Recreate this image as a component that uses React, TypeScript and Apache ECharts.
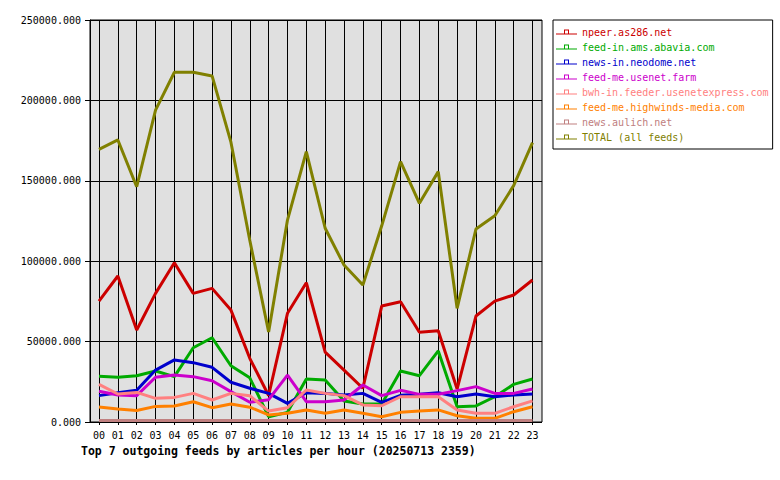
import React, { useEffect, useRef } from 'react';
import * as echarts from 'echarts';

const hours = ['00', '01', '02', '03', '04', '05', '06', '07', '08', '09', '10', '11', '12', '13', '14', '15', '16', '17', '18', '19', '20', '21', '22', '23'];

const npeer = [75200, 90800, 57200, 80000, 99000, 80000, 83100, 69600, 39600, 16500, 67600, 86600, 43500, 32300, 21000, 72100, 74800, 55800, 56800, 20500, 65900, 75200, 79000, 88300];
const feedInAms = [28400, 27800, 28800, 31700, 28200, 46200, 52400, 35000, 27500, 3300, 6000, 26700, 26100, 13000, 11200, 11200, 31700, 28800, 44200, 9500, 10000, 15700, 23400, 26700];
const newsInNeodome = [16400, 18200, 19700, 32300, 38600, 36900, 34000, 24700, 21000, 17800, 11600, 18200, 17800, 16800, 17800, 12200, 16600, 17200, 18200, 15700, 17400, 15700, 16800, 17400];
const feedMeUsenet = [19100, 16800, 16400, 27800, 29200, 28200, 25700, 18900, 12300, 13900, 29200, 12600, 12600, 13700, 23000, 16400, 19700, 17200, 17200, 19500, 22000, 17800, 17800, 20500];
const bwhIn = [23400, 17400, 18400, 14700, 15300, 17800, 13700, 17800, 16300, 6800, 8900, 19900, 17800, 16400, 10600, 10100, 15700, 15700, 15700, 7500, 5400, 5400, 9500, 13100];
const feedMeHighwinds = [9300, 8100, 7200, 9700, 10000, 12600, 8900, 11200, 9200, 4400, 5400, 7500, 5400, 7500, 5400, 3300, 6000, 6800, 7500, 3900, 2300, 2300, 6400, 9500];
const newsAulich = [1000, 1000, 1000, 1000, 1000, 1000, 1000, 1000, 1000, 1000, 1000, 1000, 1000, 1000, 1000, 1000, 1000, 1000, 1000, 1000, 1000, 1000, 1000, 1000];
const total = [169600, 175400, 146300, 194000, 217500, 217500, 215200, 174000, 113000, 56000, 125600, 168100, 120500, 97600, 85200, 122000, 161900, 136000, 155700, 70700, 120000, 128300, 147000, 173700];

const seriesNames = [
  'npeer.as286.net',
  'feed-in.ams.abavia.com',
  'news-in.neodome.net',
  'feed-me.usenet.farm',
  'bwh-in.feeder.usenetexpress.com',
  'feed-me.highwinds-media.com',
  'news.aulich.net',
  'TOTAL (all feeds)',
];
const seriesColors = ['#cc0000', '#00aa00', '#0000cc', '#cc00cc', '#ff8080', '#ff8000', '#c08080', '#808000'];
const seriesData = [npeer, feedInAms, newsInNeodome, feedMeUsenet, bwhIn, feedMeHighwinds, newsAulich, total];

const yTicks = { min: 0, max: 250000, interval: 50000 };
const titleText = 'Top 7 outgoing feeds by articles per hour (20250713 2359)';

const MONO = '"DejaVu Sans Mono", "Liberation Mono", monospace';
const legendIcon =
  'path://M0 4h21v1h-21z M8 0h5v1h-5z M8 0h1v5h-1z M12 0h1v5h-1z';

export default function App() {
  const ref = useRef<HTMLDivElement>(null);
  useEffect(() => {
    const chart = echarts.init(ref.current!, null, { renderer: 'svg' });
    const option: any = {
      animation: false,
      backgroundColor: '#ffffff',
      title: {
        text: titleText,
        left: 81,
        top: 445,
        padding: 0,
        textStyle: { fontFamily: MONO, fontSize: 11.5, fontWeight: 'bold', color: '#000' },
      },
      legend: {
        orient: 'vertical',
        left: 553,
        top: 20,
        padding: [6, 4, 6, 3],
        backgroundColor: '#ffffff',
        borderColor: '#000',
        borderWidth: 1,
        itemWidth: 21,
        itemHeight: 5,
        itemGap: 3,
        icon: legendIcon,
        itemStyle: { borderWidth: 0 },
        textStyle: { fontFamily: MONO, fontSize: 10, lineHeight: 12 },
        data: seriesNames.map((n, i) => ({ name: n, textStyle: { color: seriesColors[i] } })),
      },
      grid: [
        {
          left: 90,
          top: 20,
          width: 452,
          height: 402,
          show: true,
          backgroundColor: '#e0e0e0',
          borderColor: '#000',
          borderWidth: 1,
        },
        {
          left: 99,
          top: 20,
          width: 433.5,
          height: 402,
          show: false,
        },
      ],
      xAxis: [
        { type: 'value', gridIndex: 0, min: 0, max: 1, show: false },
        {
          type: 'category',
          gridIndex: 1,
          data: hours,
          boundaryGap: false,
          axisLine: { show: false },
          axisTick: { show: true, length: 3, lineStyle: { color: '#000' } },
          axisLabel: { fontFamily: MONO, fontSize: 10, color: '#000', margin: 8, interval: 0 },
          splitLine: { show: true, lineStyle: { color: '#000', width: 1 } },
        },
      ],
      yAxis: [
        {
          type: 'value',
          gridIndex: 0,
          min: yTicks.min,
          max: yTicks.max,
          interval: yTicks.interval,
          axisLine: { show: true, lineStyle: { color: '#000' } },
          axisTick: { show: true, length: 5, lineStyle: { color: '#000' } },
          axisLabel: {
            fontFamily: MONO,
            fontSize: 10,
            color: '#000',
            margin: 9,
            formatter: (v: number) => v.toFixed(3),
          },
          splitLine: { show: true, lineStyle: { color: '#000', width: 1 } },
        },
        {
          type: 'value',
          gridIndex: 1,
          min: yTicks.min,
          max: yTicks.max,
          interval: yTicks.interval,
          show: false,
          splitLine: { show: false },
        },
      ],
      series: seriesNames.map((n, i) => ({
        name: n,
        type: 'line',
        xAxisIndex: 1,
        yAxisIndex: 1,
        data: seriesData[i],
        symbol: 'rect',
        showSymbol: false,
        clip: false,
        z: 5,
        color: seriesColors[i],
        itemStyle: { color: seriesColors[i] },
        lineStyle: { color: seriesColors[i], width: 3 },
        emphasis: { disabled: true },
      })),
    };
    chart.setOption(option);
    return () => chart.dispose();
  }, []);
  return <div ref={ref} style={{ position: 'fixed', left: 0, top: 0, width: 780, height: 480 }} />;
}
